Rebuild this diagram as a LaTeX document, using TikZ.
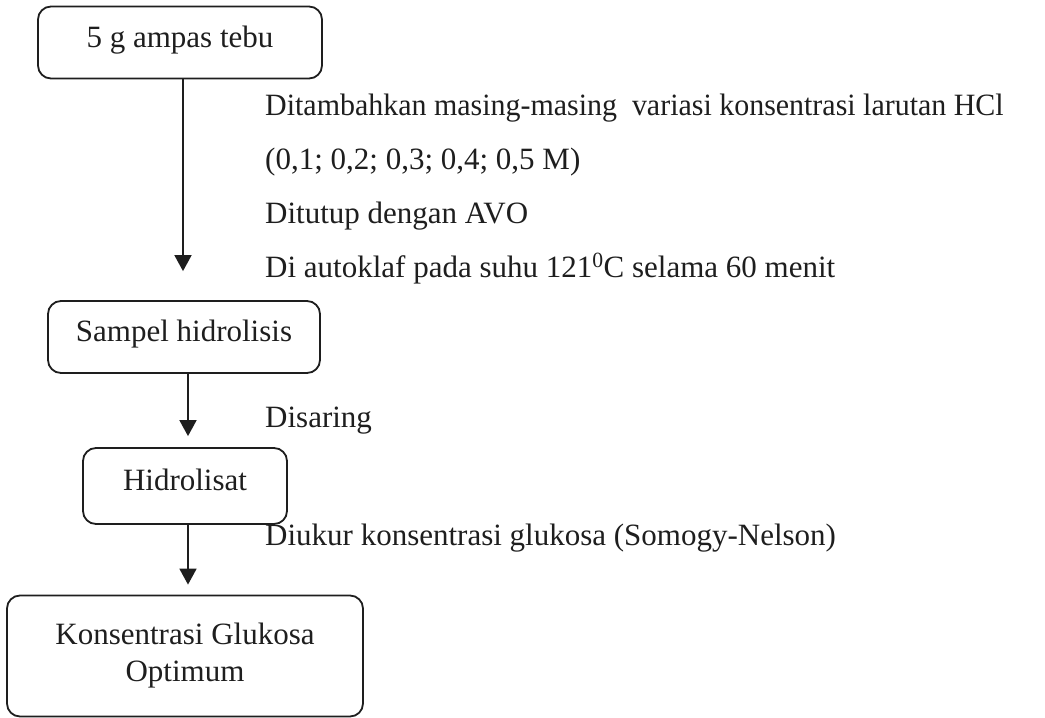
\documentclass[tikz,border=0pt]{standalone}
\usepackage{fontspec}
\setmainfont{Liberation Serif}
\usetikzlibrary{arrows.meta}
\definecolor{ink}{HTML}{1E1E1E}
\begin{document}
\begin{tikzpicture}[x=1pt,y=-1pt,
  every node/.style={font=\fontsize{31}{37}\selectfont, text=ink},
  stepbox/.style={draw=ink, line width=1.8pt, rounded corners=13pt, inner sep=0pt,
    text height=22pt, text depth=13pt},
  arr/.style={draw=ink, line width=1.8pt, -{Triangle[width=17pt,length=16pt]}},
  note/.style={anchor=base west, inner sep=0pt}]
\useasboundingbox (0,0) rectangle (1045,718);
\node[stepbox, minimum width=284pt, minimum height=72pt] (b1) at (180,42.5) {5 g ampas tebu};
\node[stepbox, minimum width=272pt, minimum height=72pt] (b2) at (184,337) {Sampel hidrolisis};
\node[stepbox, minimum width=204pt, minimum height=76pt] (b3) at (185,486) {Hidrolisat};
\node[stepbox, minimum width=356pt, minimum height=121pt, align=center, text height=, text depth=] (b4) at (185,656) {Konsentrasi Glukosa\\Optimum};
\draw[arr, shorten >=29pt] ([xshift=3pt]b1.south) -- ([xshift=3pt]b1.south |- b2.north);
\draw[arr, shorten >=11pt] ([xshift=4pt]b2.south) -- ([xshift=4pt]b2.south |- b3.north);
\draw[arr, shorten >=10pt] ([xshift=3pt]b3.south) -- ([xshift=3pt]b3.south |- b4.north);
\node[note] (t1) at (265,115) {\scalebox{0.966}[1]{Ditambahkan masing-masing\ \ variasi konsentrasi larutan HCl}};
\node[note] (t2) at (265,169) {(0,1; 0,2; 0,3; 0,4; 0,5 M)};
\node[note] (t3) at (265,223) {Ditutup dengan AVO};
\node[note] (t4) at (265,277) {Di autoklaf pada suhu 121\textsuperscript{0}C selama 60 menit};
\node[note] (t5) at (265,427) {Disaring};
\node[note] (t6) at (265,545) {Diukur konsentrasi glukosa (Somogy-Nelson)};
\end{tikzpicture}
\end{document}
